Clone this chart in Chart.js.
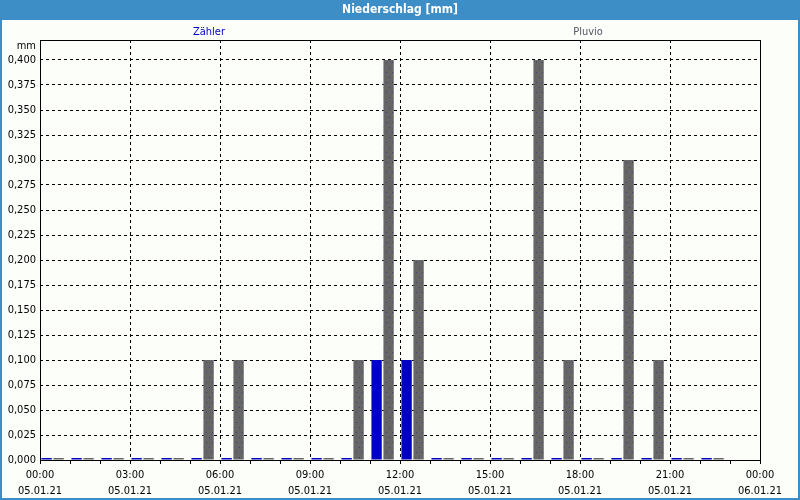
<!DOCTYPE html>
<html>
<head>
<meta charset="utf-8">
<script src="https://cdn.jsdelivr.net/npm/chart.js@4/dist/chart.umd.min.js"></script>
<style>
  body { margin: 0; background: #fff; }
  #wrap { width: 800px; height: 500px; }
</style>
</head>
<body>
<div id="wrap"><canvas id="grafico" width="800" height="500"></canvas></div>
<script>
// Stunden des Tages (05.01.21), ein Wert pro Stunde
const hours = [0, 1, 2, 3, 4, 5, 6, 7, 8, 9, 10, 11, 12, 13, 14, 15, 16, 17, 18, 19, 20, 21, 22, 23];
const zaehler = [0, 0, 0, 0, 0, 0, 0, 0, 0, 0, 0, 0.1, 0.1, 0, 0, 0, 0, 0, 0, 0, 0, 0, 0, null];
const pluvio  = [0, 0, 0, 0, 0, 0.1, 0.1, 0, 0, 0, 0.1, 0.4, 0.2, 0, 0, 0, 0.4, 0.1, 0, 0.3, 0.1, 0, 0, null];

const yTicks = [0, 0.025, 0.05, 0.075, 0.1, 0.125, 0.15, 0.175, 0.2, 0.225, 0.25, 0.275, 0.3, 0.325, 0.35, 0.375, 0.4];
const xTickHours = [0, 3, 6, 9, 12, 15, 18, 21, 24];
const xTimeLabels = ['00:00', '03:00', '06:00', '09:00', '12:00', '15:00', '18:00', '21:00', '00:00'];
const xDateLabels = ['05.01.21', '05.01.21', '05.01.21', '05.01.21', '05.01.21', '05.01.21', '05.01.21', '05.01.21', '06.01.21'];

const FONT = 'DejaVu Sans Condensed';
const BLUE = '#0000c4';
const BAR_SHIFT = 0.42; // Balkengruppe sitzt etwas links der Stundenmitte

// graues Muster mit kleinen Punkten
function grauMuster() {
    const c = document.createElement('canvas');
    c.width = 6; c.height = 10;
    const g = c.getContext('2d');
    g.fillStyle = '#666666';
    g.fillRect(0, 0, 6, 10);
    g.fillStyle = '#3c3c86';
    g.fillRect(2, 2, 1, 1);
    g.fillRect(5, 7, 1, 1);
    return g.createPattern(c, 'repeat');
}

const rahmen = {
    id: 'rahmen',
    beforeDraw(chart) {
        const ctx = chart.ctx;
        const W = chart.width, H = chart.height;
        ctx.save();
        ctx.fillStyle = '#fcfefa';
        ctx.fillRect(0, 0, W, H);
        // Titelleiste
        ctx.fillStyle = '#3d8ec7';
        ctx.fillRect(0, 0, W, 20);
        ctx.fillStyle = '#ffffff';
        ctx.font = 'bold 12px "' + FONT + '"';
        ctx.textAlign = 'center';
        ctx.textBaseline = 'middle';
        ctx.fillText('Niederschlag [mm]', W / 2, 10);
        // Legende
        ctx.font = '11px "' + FONT + '"';
        ctx.fillStyle = BLUE;
        ctx.fillText(chart.data.datasets[0].label, 209, 32);
        ctx.fillStyle = '#555566';
        ctx.fillText(chart.data.datasets[1].label, 588, 32);
        // Einheit
        ctx.fillStyle = '#000';
        ctx.textAlign = 'right';
        ctx.fillText('mm', 36, 46);
        ctx.restore();
    },
    afterDraw(chart) {
        const ctx = chart.ctx;
        const a = chart.chartArea;
        ctx.save();
        ctx.strokeStyle = '#000';
        ctx.lineWidth = 1;
        ctx.setLineDash([]);
        ctx.strokeRect(Math.round(a.left) + 0.5, Math.round(a.top) + 0.5,
            Math.round(a.right - a.left), Math.round(a.bottom - a.top));
        // Fensterrand
        ctx.strokeStyle = '#3d8ec7';
        ctx.lineWidth = 2;
        ctx.strokeRect(1, 1, chart.width - 2, chart.height - 2);
        ctx.restore();
    }
};

const ctx = document.getElementById('grafico').getContext('2d');
new Chart(ctx, {
    type: 'bar',
    data: {
        datasets: [
            {
                label: 'Zähler',
                data: hours.map((h, i) => ({ x: h + BAR_SHIFT, y: zaehler[i] })),
                backgroundColor: BLUE,
                borderWidth: 0
            },
            {
                label: 'Pluvio',
                data: hours.map((h, i) => ({ x: h + BAR_SHIFT, y: pluvio[i] })),
                backgroundColor: grauMuster(),
                borderWidth: 0
            }
        ]
    },
    options: {
        responsive: false,
        animation: false,
        devicePixelRatio: 1,
        categoryPercentage: 0.8,
        barPercentage: 0.86,
        minBarLength: 2,
        layout: { padding: { left: 0, top: 40, right: 40, bottom: 0 } },
        plugins: {
            legend: { display: false },
            tooltip: { enabled: false }
        },
        scales: {
            x: {
                type: 'linear',
                min: 0,
                max: 24,
                offset: false,
                afterFit: s => { s.height = 40; },
                afterBuildTicks: s => { s.ticks = hours.concat([24]).map(v => ({ value: v })); },
                grid: {
                    offset: false,
                    color: c => (c.tick && xTickHours.includes(c.tick.value)) ? '#000' : 'rgba(0,0,0,0)',
                    tickColor: '#000',
                    tickLength: 4,
                    lineWidth: 1
                },
                border: { display: false, dash: [3, 3] },
                ticks: {
                    autoSkip: false,
                    maxRotation: 0,
                    padding: 3,
                    color: '#000',
                    font: { family: FONT, size: 11, lineHeight: '16px' },
                    callback: v => {
                        const i = xTickHours.indexOf(v);
                        return i >= 0 ? [xTimeLabels[i], xDateLabels[i]] : '';
                    }
                }
            },
            y: {
                min: 0,
                max: 0.42,
                afterFit: s => { s.width = 40; },
                afterBuildTicks: s => { s.ticks = yTicks.map(v => ({ value: v })); },
                grid: { color: '#000', drawTicks: false, lineWidth: 1 },
                border: { display: false, dash: [3, 3] },
                ticks: {
                    padding: 4,
                    color: '#000',
                    font: { family: FONT, size: 11 },
                    callback: v => v.toFixed(3).replace('.', ',')
                }
            }
        }
    },
    plugins: [rahmen]
});
</script>
</body>
</html>
